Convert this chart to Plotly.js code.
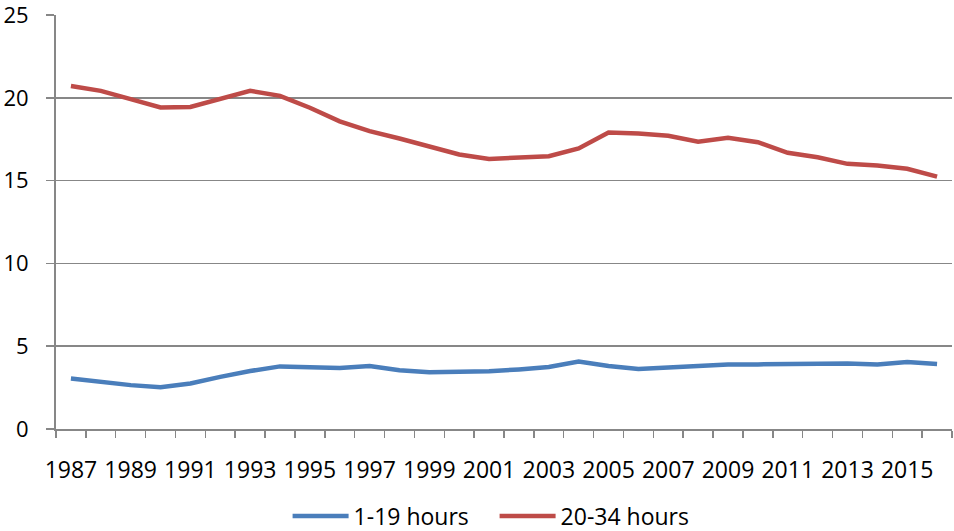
<!DOCTYPE html>
<html>
<head>
<meta charset="utf-8">
<script src="https://cdn.plot.ly/plotly-3.0.1.min.js"></script>
<style>html,body{margin:0;padding:0;background:#fff;}#chart{width:954px;height:531px;}</style>
</head>
<body>
<div id="chart"></div>
<script>
var years = ["1987","1988","1989","1990","1991","1992","1993","1994","1995","1996","1997","1998","1999","2000","2001","2002","2003","2004","2005","2006","2007","2008","2009","2010","2011","2012","2013","2014","2015","2016"];
var hours1to19 = [3.05,2.85,2.65,2.52,2.75,3.15,3.5,3.78,3.74,3.68,3.8,3.55,3.43,3.45,3.49,3.6,3.75,4.08,3.8,3.62,3.72,3.8,3.9,3.9,3.92,3.98,3.96,3.9,4.04,3.93];
var hours20to34 = [20.71,20.42,19.92,19.42,19.45,19.92,20.42,20.12,19.4,18.58,17.99,17.54,17.04,16.58,16.31,16.41,16.47,16.94,17.9,17.84,17.71,17.35,17.59,17.32,16.68,16.41,16.01,15.91,15.71,15.24];
var seriesNames = ["1-19 hours","20-34 hours"];
var xTickLabels = ["1987","","1989","","1991","","1993","","1995","","1997","","1999","","2001","","2003","","2005","","2007","","2009","","2011","","2013","","2015",""];
var yTickVals = [0,5,10,15,20,25];

var FONT = "'Open Sans', sans-serif";
var traces = [
  {x: years, y: hours1to19, name: seriesNames[0], type: "scatter", mode: "lines",
   line: {color: "#4a7ebb", width: 4.5}},
  {x: years, y: hours20to34, name: seriesNames[1], type: "scatter", mode: "lines",
   line: {color: "#be4b48", width: 4.5}}
];
var layout = {
  width: 954, height: 531,
  margin: {l: 56, r: 2, t: 15, b: 102, autoexpand: false},
  paper_bgcolor: "#fff", plot_bgcolor: "#fff",
  font: {family: FONT, size: 23, color: "#000"},
  showlegend: true,
  legend: {orientation: "h", xref: "paper", x: 0.4895, xanchor: "center",
           yref: "container", y: 0.028, yanchor: "middle", entrywidth: 136,
           font: {family: FONT, size: 23, color: "#000"}, itemwidth: 56, tracegroupgap: 0},
  xaxis: {type: "category", categoryorder: "array", categoryarray: years,
          range: [-0.5, years.length - 0.5],
          tickmode: "array", tickvals: years, ticktext: xTickLabels,
          tickson: "boundaries", ticks: "outside", ticklen: 7, tickwidth: 1.5, tickcolor: "#878787",
          showline: true, linecolor: "#878787", linewidth: 2, showgrid: false, zeroline: false,
          tickangle: 0, ticklabelstandoff: 19, ticklabeloverflow: "allow", automargin: false, fixedrange: true},
  yaxis: {range: [0, 25], tickmode: "array", tickvals: yTickVals,
          ticks: "outside", ticklen: 8, tickwidth: 1.5, tickcolor: "#878787",
          tickfont: {family: FONT, size: 22, color: "#000"},
          showline: true, linecolor: "#878787", linewidth: 2,
          showgrid: true, gridcolor: "#878787", gridwidth: 1.5, zeroline: false,
          ticklabelstandoff: 13, ticklabeloverflow: "allow", automargin: false, fixedrange: true}
};
Plotly.newPlot("chart", traces, layout, {displayModeBar: false, staticPlot: true});
</script>
</body>
</html>
